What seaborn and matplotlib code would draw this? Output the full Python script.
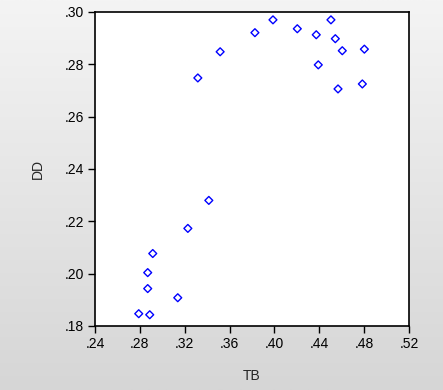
import numpy as np
import pandas as pd
import matplotlib
matplotlib.use("Agg")
import matplotlib.pyplot as plt
import seaborn as sns

tb = [0.3317, 0.3516, 0.3826, 0.3987, 0.4204, 0.4504, 0.4373, 0.4543, 0.4605,
      0.4802, 0.4391, 0.4784, 0.4567, 0.3415, 0.3228, 0.2915, 0.2870, 0.2870,
      0.3138, 0.2790, 0.2888]
dd = [0.2748, 0.2848, 0.2921, 0.2970, 0.2936, 0.2970, 0.2913, 0.2898, 0.2852,
      0.2858, 0.2798, 0.2725, 0.2706, 0.2280, 0.2173, 0.2077, 0.2004, 0.1943,
      0.1908, 0.1847, 0.1843]
x_ticks = [0.24, 0.28, 0.32, 0.36, 0.40, 0.44, 0.48, 0.52]
y_ticks = [0.18, 0.20, 0.22, 0.24, 0.26, 0.28, 0.30]

df = pd.DataFrame({"TB": tb, "DD": dd})

sns.set_style("ticks")
plt.rcParams["font.family"] = ["Liberation Sans", "DejaVu Sans"]

fig = plt.figure(figsize=(4.43, 3.90), dpi=100)

# background gradient
bg = fig.add_axes([0, 0, 1, 1], zorder=-10)
grad = np.linspace(0, 1, 256).reshape(-1, 1)
bg.imshow(grad, aspect="auto", cmap=matplotlib.colors.LinearSegmentedColormap.from_list(
    "g", ["#f4f4f4", "#d6d6d6"]), extent=[0, 1, 0, 1], origin="upper")
bg.axis("off")

ax = fig.add_axes([95 / 443, 1 - 326 / 390, 314 / 443, 314 / 390])
ax.set_facecolor("white")
sns.scatterplot(data=df, x="TB", y="DD", ax=ax, marker="D", s=16,
                facecolor="none", edgecolor="#0000ff", linewidth=1.0)

ax.set_xlim(0.24, 0.52)
ax.set_ylim(0.18, 0.30)
ax.set_xticks(x_ticks)
ax.set_yticks(y_ticks)
ax.set_xticklabels([("%.2f" % v)[1:] for v in x_ticks])
ax.set_yticklabels([("%.2f" % v)[1:] for v in y_ticks])
ax.tick_params(direction="out", length=5, width=1, colors="black",
               labelsize=10, pad=3)
for sp in ax.spines.values():
    sp.set_visible(True)
    sp.set_color("black")
    sp.set_linewidth(1.2)
ax.set_xlabel("TB", fontsize=10)
ax.set_ylabel("DD", fontsize=10)
ax.xaxis.set_label_coords(0.5, -0.137)
ax.yaxis.set_label_coords(-0.159, 0.5)

fig.savefig("out.png", dpi=100)
